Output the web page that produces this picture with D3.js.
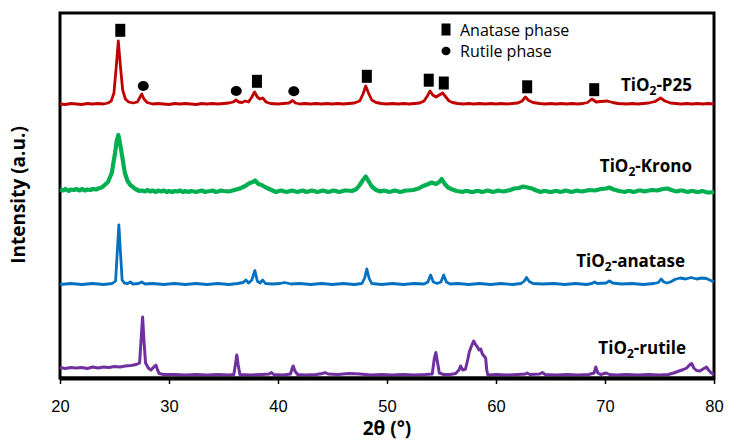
<!DOCTYPE html>
<html>
<head>
<meta charset="utf-8">
<script src="https://cdn.jsdelivr.net/npm/d3@7"></script>
<style>
  body { margin: 0; background: #fff; }
  svg { font-family: "Open Sans", sans-serif; }
  .axis text { font-size: 16.5px; fill: #000; }
  .axis path, .axis line { stroke: #000; }
</style>
</head>
<body>
<div id="chart"></div>
<script>
var width = 729,
    height = 441,
    margin = {top: 13, right: 15, bottom: 63, left: 60};

// 2-theta (deg) vs intensity (a.u., traces offset as plotted)
var p25 = [[20,274],[20.5,273.5],[21,274.5],[21.5,274],[22,273.5],[22.5,274.5],[23,274],[23.5,274.5],[24,274],[24.4,275],[24.7,277],[24.95,285],[25.15,310],[25.35,337],[25.55,311],[25.75,288],[26,279],[26.3,276],[26.7,275],[27.1,276],[27.35,281],[27.5,284],[27.7,279],[28,275.5],[28.5,274],[29,274.5],[29.5,274],[30,273.5],[30.5,274.5],[31,274],[31.5,274.5],[32,274],[32.5,273.5],[33,274.5],[33.5,274],[34,274.5],[34.5,274],[35,274.5],[35.5,275],[35.9,276],[36.15,278],[36.4,276],[36.7,275.5],[37,277],[37.3,276],[37.6,281],[37.85,286],[38.1,281],[38.35,279],[38.6,280],[38.9,276],[39.3,274.5],[40,274],[40.5,274.5],[41,275],[41.35,277.5],[41.6,275],[42,274],[42.5,274.5],[43,274],[43.5,274.5],[44,274],[44.5,274.5],[45,274],[45.5,274.5],[46,274],[46.5,274.5],[47,275],[47.5,277],[47.8,284],[48.05,292],[48.3,285],[48.6,278],[49,275.5],[49.5,274.5],[50,274],[50.5,274.5],[51,274],[51.5,274.5],[52,274],[52.5,274.5],[53,275],[53.4,277],[53.7,282],[53.95,287],[54.2,283],[54.5,281],[54.8,283],[55.1,285],[55.4,281],[55.7,277],[56,275.5],[56.5,274.5],[57,274],[57.5,274.5],[58,274],[58.5,274.5],[59,274],[59.5,274.5],[60,274],[60.5,274.5],[61,274],[61.5,274.5],[62,275],[62.4,277],[62.7,281],[63,277.5],[63.4,275.5],[64,274.5],[64.5,274],[65,274.5],[65.5,274],[66,274.5],[66.5,274],[67,274.5],[67.5,274],[68,274.5],[68.4,275.5],[68.8,279],[69.2,276],[69.6,276.5],[70.2,277],[70.7,275.5],[71.2,274.5],[72,274],[72.5,274.5],[73,274],[73.5,274.5],[74,275],[74.6,276.5],[75.1,280],[75.5,277],[76,275],[76.5,274.5],[77,274],[77.5,274.5],[78,274],[78.5,274.5],[79,274],[79.5,274.5],[80,274]];

var krono = [[20,188.5],[20.3,187.5],[20.5,189],[20.8,187],[21,188.5],[21.3,188],[21.5,189],[21.8,187.5],[22,189],[22.3,187.5],[22.5,188.5],[22.8,188],[23,189],[23.3,188.5],[23.5,189.5],[23.8,190.5],[24,192],[24.4,196],[24.75,205],[25.05,225],[25.2,237],[25.35,243],[25.5,235],[25.7,222],[25.95,205],[26.2,197],[26.45,193],[26.8,190],[27,188.5],[27.3,187],[27.5,187.5],[27.8,186.5],[28,188],[28.3,186.5],[28.5,187.5],[28.8,186],[29,187.5],[29.3,186.5],[29.5,187.5],[29.8,186],[30,187],[30.3,186],[30.5,187],[30.8,186.5],[31,187.5],[31.3,186],[31.5,187],[31.8,186],[32,187],[32.3,186.5],[32.5,186],[32.8,187],[33,187.5],[33.3,186],[33.5,186.5],[33.8,187],[34,187.5],[34.3,186],[34.5,186.5],[34.8,187.5],[35,187],[35.5,186.5],[36,188],[36.5,189.5],[37,192],[37.4,195],[37.7,196],[37.9,197.5],[38.2,194],[38.5,193],[38.8,191],[39.3,188.5],[39.6,187],[39.8,186],[40.1,187],[40.3,187.5],[40.6,186.5],[40.8,186],[41.1,187],[41.3,187.5],[41.6,186.5],[41.8,186],[42.1,187],[42.3,187.5],[42.6,186],[42.8,186.5],[43.1,187.5],[43.3,187],[43.6,186],[43.8,186.5],[44.1,187.5],[44.3,187],[44.6,186],[44.8,186.5],[45.1,187.5],[45.3,187],[45.6,186],[45.8,186.5],[46.1,187.5],[46.3,187.5],[46.8,187],[47.2,189],[47.5,193],[47.8,198],[48.05,201.5],[48.3,197],[48.6,191.5],[49,188],[49.4,186.5],[49.7,187.5],[49.9,187],[50.2,186],[50.4,186.5],[50.7,187.5],[50.9,187],[51.2,186],[51.4,186.5],[51.7,187.5],[51.9,187.5],[52.4,188],[52.9,189.5],[53.3,192],[53.7,193.5],[54.1,195.5],[54.5,194],[54.8,196],[55.02,199],[55.3,194],[55.6,190.5],[56,188.5],[56.4,187],[56.7,186.5],[56.9,186],[57.2,187],[57.4,187],[57.7,186],[57.9,186],[58.2,187],[58.4,187],[58.7,186],[58.9,186.5],[59.2,187.5],[59.4,187],[59.7,186],[59.9,186.5],[60.2,187.5],[60.4,187],[60.7,186.5],[60.9,187],[61.3,188],[61.7,189.5],[62.1,190],[62.5,191.5],[62.9,190.5],[63.3,189.5],[63.7,187.5],[64.1,186],[64.4,187],[64.6,187],[64.9,186],[65.1,186],[65.4,187],[65.6,187],[65.9,186],[66.1,186.5],[66.4,187.5],[66.6,187],[66.9,186],[67.1,186.5],[67.4,187.5],[67.6,187],[67.9,186.5],[68.1,187],[68.6,188],[69.1,187.5],[69.6,189],[70.1,189.5],[70.4,190.5],[70.8,188.5],[71.3,187],[71.6,186.5],[71.8,186],[72.1,187],[72.3,187],[72.6,186],[72.8,186.5],[73.1,187.5],[73.3,187.5],[73.6,186.5],[73.8,187],[74.3,188],[74.8,187.5],[75.3,189],[75.7,189.5],[76.1,188],[76.4,187],[76.6,186.5],[76.9,187.5],[77.1,187.5],[77.4,186.5],[77.6,186],[77.9,187],[78.1,187],[78.4,186],[78.6,186],[78.9,187],[79.1,186.5],[79.4,185.5],[79.6,185.5],[80,186]];

var anatase = [[20,93.5],[21,94.5],[22,93.5],[23,94.5],[24,93.5],[24.8,94.5],[25.1,97],[25.25,125],[25.4,153],[25.55,125],[25.7,98],[25.9,95],[26.2,94.5],[26.45,96],[26.7,94],[27.2,94.5],[27.5,96],[27.8,94],[28.5,94.5],[29.5,93.5],[30.5,94.5],[31.5,93.5],[32.5,94.5],[33.5,93.5],[34.5,94.5],[35.5,93.5],[36.3,94.5],[36.8,95.5],[37.05,98],[37.3,95],[37.6,98],[37.88,107.5],[38.1,97],[38.35,95],[38.6,98],[38.85,94.5],[39.5,94],[40.2,94.5],[40.6,95.5],[41.2,94],[42,94.5],[43,93.5],[44,94.5],[45,93.5],[46,94.5],[47,93.5],[47.7,94.5],[47.95,100],[48.15,109],[48.35,100],[48.6,94.5],[49.5,93.5],[50.5,94.5],[51.5,93.5],[52.5,94.5],[53.4,94],[53.75,96],[54,103],[54.25,96],[54.6,94.5],[54.95,96],[55.2,103],[55.45,96],[55.8,94],[56.5,94.5],[57.5,93.5],[58.5,94.5],[59.5,93.5],[60.5,94.5],[61.5,93.5],[62.3,94.5],[62.6,97],[62.8,100.5],[63.05,96.5],[63.4,94.5],[64.3,94],[65.3,94.5],[66.3,93.5],[67.3,94.5],[68.3,93.5],[68.8,94.5],[69.05,96],[69.3,94.5],[70.1,95],[70.4,97],[70.7,95],[71.5,94],[72.5,94.5],[73.5,93.5],[74.5,94.5],[74.9,95.5],[75.15,99],[75.4,96],[75.7,95],[76,96],[76.4,98.5],[76.9,100],[77.4,99],[77.9,100.5],[78.4,99],[78.9,100],[79.3,99.5],[79.6,98],[80,96]];

var rutile = [[20,10.5],[20.5,9.5],[21,10.5],[21.5,10],[22,10.5],[22.5,9.5],[23,11],[23.5,10],[24,11],[24.5,10.5],[25,11.5],[25.5,11],[26,12],[26.5,12.5],[27,13.5],[27.3,15],[27.45,40],[27.58,61],[27.7,38],[27.85,15],[28.1,10],[28.35,8],[28.6,11],[28.8,13],[28.95,8],[29.1,4.5],[29.5,3.5],[30.5,3.5],[31.5,3],[32.5,3.5],[33.5,3],[34.5,3.5],[35.5,3],[35.95,3.5],[36.1,14],[36.22,23],[36.35,13],[36.5,3.5],[37.5,3],[38.5,3.5],[39.2,4],[39.4,5.5],[39.6,3.5],[40.5,3],[41.15,4],[41.3,10],[41.4,12],[41.55,7],[41.8,3.5],[42.5,3],[43.5,3.5],[44.1,4.5],[44.3,5.5],[44.6,4],[45.5,3.5],[46.5,4.5],[47.5,4],[48.5,3],[49.5,3.5],[50.5,3],[51.5,3.5],[52.5,3],[53.5,3.5],[54.15,4],[54.35,20],[54.48,25.5],[54.6,18],[54.8,5],[55.2,3.5],[55.8,3.5],[56.3,4.5],[56.6,8],[56.75,12],[56.95,8],[57.2,9],[57.4,18],[57.55,26],[57.75,32],[57.95,37],[58.15,33],[58.3,31],[58.45,28],[58.6,29],[58.75,24],[58.9,22],[59.05,20],[59.15,8],[59.25,3],[60,3.5],[61,3],[62,3.5],[62.7,4],[62.85,5],[63.1,3.5],[64,4],[64.25,5.5],[64.5,3.5],[65.5,3],[66.5,3.5],[67.5,3],[68.5,3.5],[69,5],[69.15,11],[69.35,5],[69.6,3.5],[70.1,5],[70.4,3.5],[71,3],[72,3.5],[73,3],[74,3.5],[75,3],[75.8,3.5],[76.3,5],[76.8,7],[77.2,8.5],[77.5,10],[77.75,13],[77.95,14.5],[78.15,10],[78.4,7.5],[78.7,7],[79,9],[79.3,11],[79.5,8],[79.75,5],[80,3.5]];

var seriesNames = ['P25', 'Krono', 'anatase', 'rutile'];
var seriesColors = ['#c00000', '#00b050', '#0070c0', '#7030a0'];
var seriesWidths = [2.8, 4.2, 2.8, 3];
var seriesData = [p25, krono, anatase, rutile];
// where each label ends: [2theta, intensity]
var labelAt = [[77.98, 287], [77.98, 206], [77.34, 111], [77.43, 24]];

// phase markers over the P25 trace: [2theta, intensity]
var anataseMarks = [[25.53, 347.7], [38.07, 296.7], [48.15, 301.7], [53.83, 297.8], [55.21, 295], [62.86, 291.2], [69.01, 288.3]];
var rutileMarks = [[27.64, 292], [36.17, 287], [41.45, 286.7]];

var xTicks = [20, 30, 40, 50, 60, 70, 80];
var xTitle = '2θ (°)';
var yTitle = 'Intensity (a.u.)';
var legendItems = ['Anatase phase', 'Rutile phase'];

var w = width - margin.left - margin.right,
    h = height - margin.top - margin.bottom;

var svg = d3.select('#chart').append('svg')
    .attr('width', width)
    .attr('height', height);
var vis = svg.append('g')
    .attr('transform', 'translate(' + margin.left + ',' + margin.top + ')');

var x = d3.scaleLinear().domain([20, 80]).range([0, w]);
var y = d3.scaleLinear().domain([0, 365]).range([h, 0]);

// frame
vis.append('rect')
    .attr('width', w).attr('height', h)
    .attr('fill', 'none')
    .attr('stroke', '#000')
    .attr('stroke-width', 3);

var line = d3.line()
    .x(function(d) { return x(d[0]); })
    .y(function(d) { return y(d[1]); });

vis.selectAll('path.trace').data(seriesData)
  .enter().append('path')
    .attr('class', 'trace')
    .attr('d', line)
    .attr('fill', 'none')
    .attr('stroke', function(d, i) { return seriesColors[i]; })
    .attr('stroke-width', function(d, i) { return seriesWidths[i]; })
    .attr('stroke-linejoin', 'round');

// x axis
var xAxis = vis.append('g')
    .attr('class', 'axis')
    .attr('transform', 'translate(0,' + h + ')')
    .call(d3.axisBottom(x).tickValues(xTicks).tickSize(6).tickPadding(16).tickSizeOuter(0));
xAxis.select('.domain').attr('stroke-width', 4);
xAxis.selectAll('.tick line').attr('stroke-width', 1.5);

svg.append('text')
    .attr('x', margin.left + w / 2)
    .attr('y', 435)
    .attr('text-anchor', 'middle')
    .style('font-size', '19px')
    .style('font-weight', 'bold')
    .text(xTitle);

svg.append('text')
    .attr('transform', 'translate(25,' + (margin.top + 182) + ') rotate(-90)')
    .attr('text-anchor', 'middle')
    .style('font-size', '19px')
    .style('font-weight', 'bold')
    .text(yTitle);

// series labels with subscript 2
var labels = vis.selectAll('text.lbl').data(seriesNames)
  .enter().append('text')
    .attr('class', 'lbl')
    .attr('x', function(d, i) { return x(labelAt[i][0]); })
    .attr('y', function(d, i) { return y(labelAt[i][1]); })
    .attr('text-anchor', 'end')
    .style('font-size', '17px')
    .style('font-weight', 'bold');
labels.append('tspan').text('TiO');
labels.append('tspan').attr('dy', 4).style('font-size', '12px').text('2');
labels.append('tspan').attr('dy', -4).text(function(d) { return '-' + d; });

// markers
vis.selectAll('rect.mk').data(anataseMarks)
  .enter().append('rect')
    .attr('class', 'mk')
    .attr('x', function(d) { return x(d[0]) - 5; })
    .attr('y', function(d) { return y(d[1]) - 6.5; })
    .attr('width', 10).attr('height', 13)
    .attr('fill', '#000');
vis.selectAll('ellipse.mk').data(rutileMarks)
  .enter().append('ellipse')
    .attr('class', 'mk')
    .attr('cx', function(d) { return x(d[0]); })
    .attr('cy', function(d) { return y(d[1]); })
    .attr('rx', 5.5).attr('ry', 5)
    .attr('fill', '#000');

// legend
var lg = svg.append('g').attr('transform', 'translate(446,30)');
lg.append('rect').attr('x', -4.5).attr('y', -6.5).attr('width', 9).attr('height', 12).attr('fill', '#000');
lg.append('ellipse').attr('cx', 0).attr('cy', 21).attr('rx', 4.5).attr('ry', 4.2).attr('fill', '#000');
lg.selectAll('text').data(legendItems)
  .enter().append('text')
    .attr('x', 14)
    .attr('y', function(d, i) { return 6 + i * 21; })
    .style('font-size', '16px')
    .text(function(d) { return d; });
</script>
</body>
</html>
